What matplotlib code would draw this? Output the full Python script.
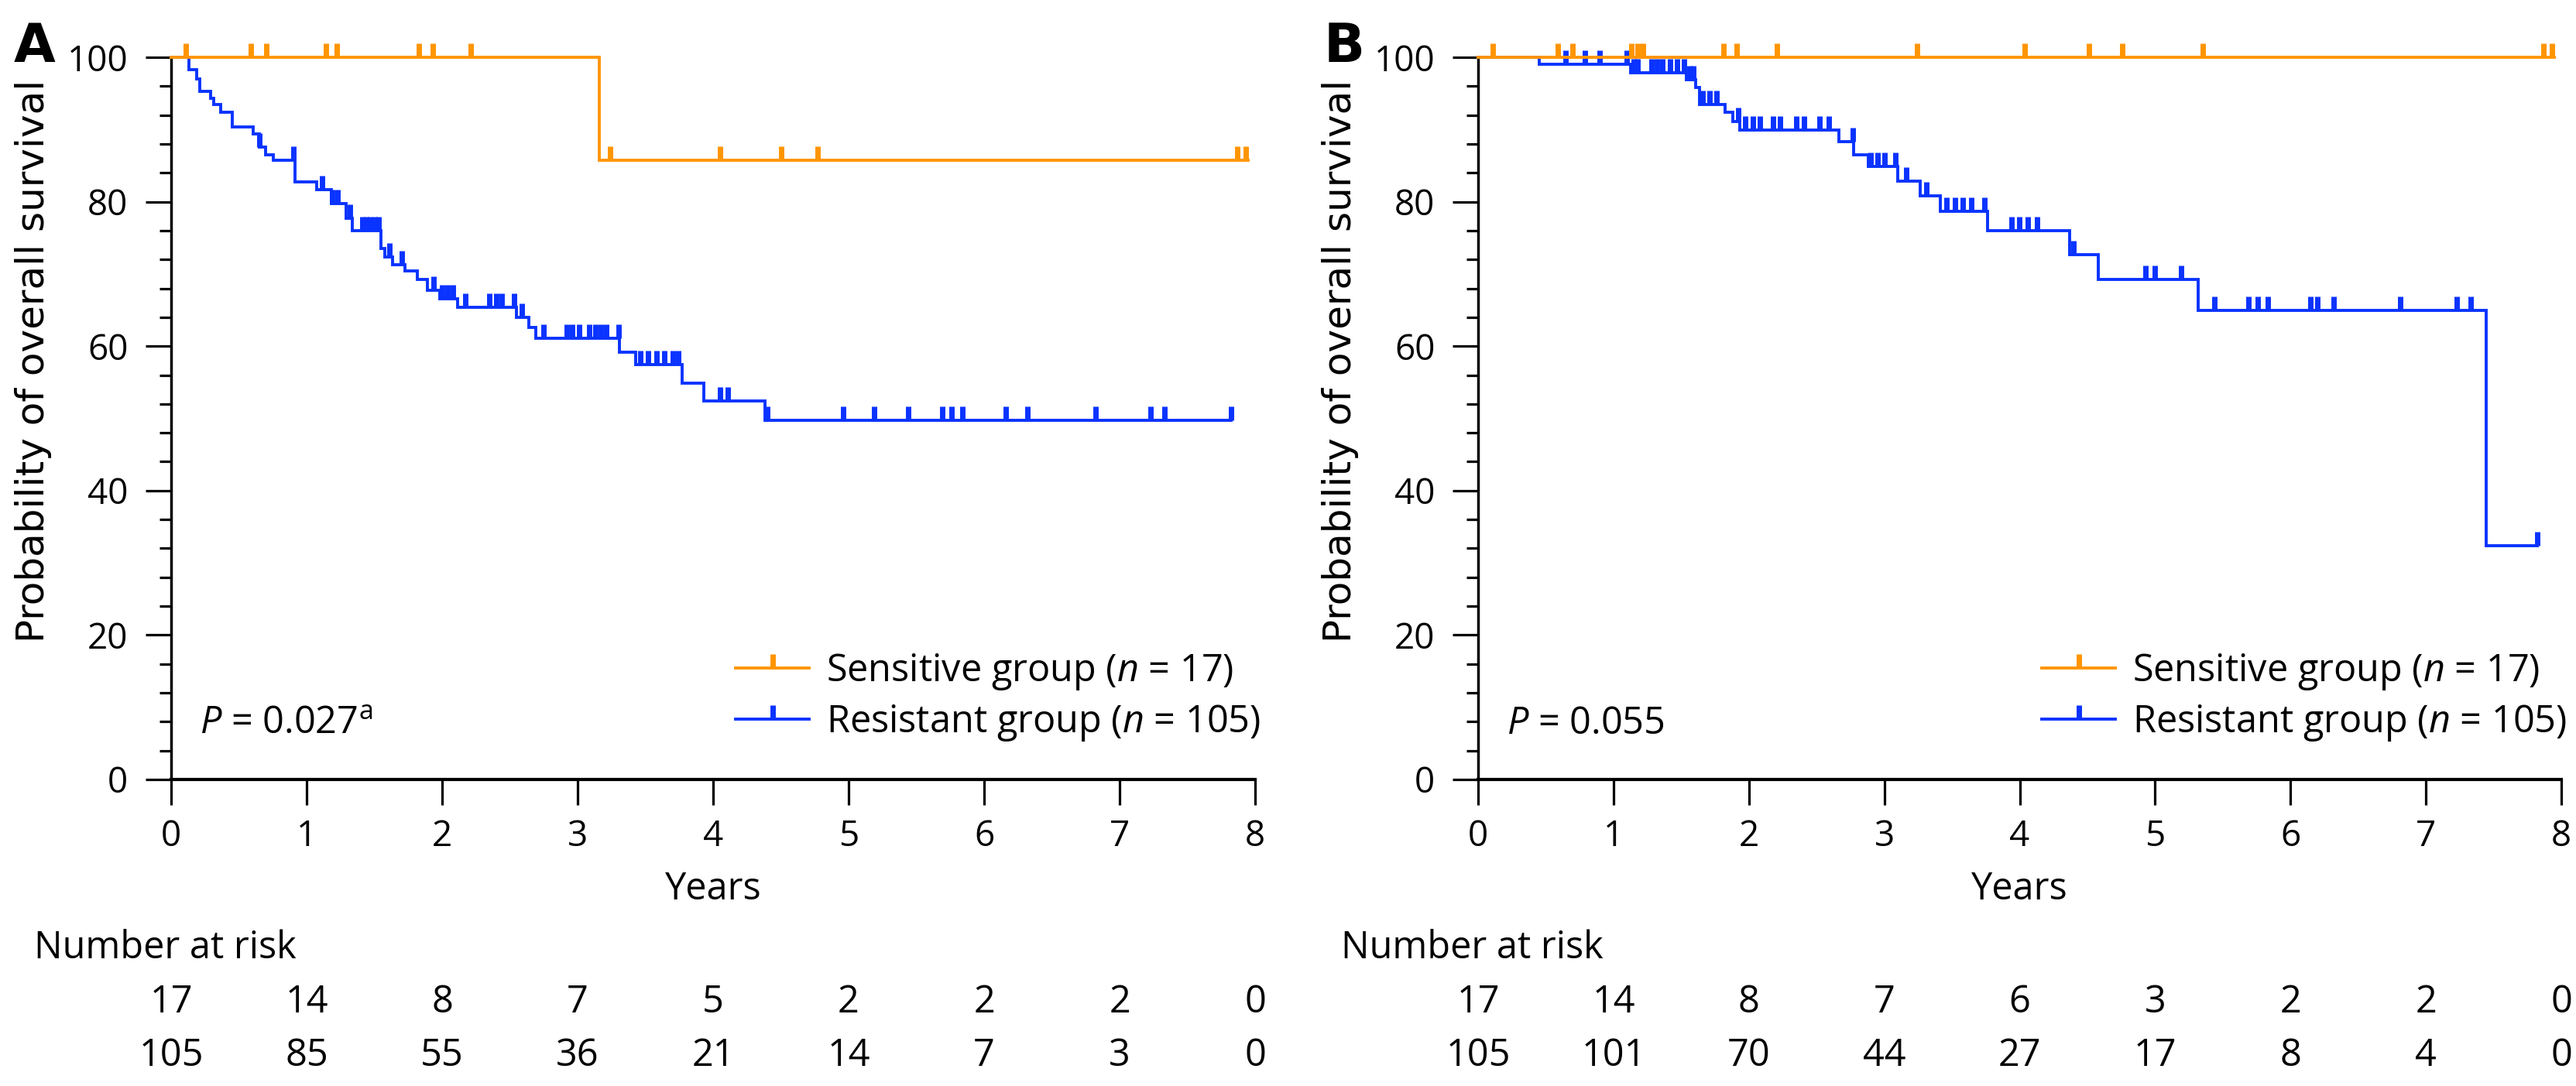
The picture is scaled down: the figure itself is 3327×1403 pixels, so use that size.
import matplotlib

matplotlib.use("Agg")
import matplotlib.pyplot as plt
import numpy as np
from matplotlib import font_manager
from matplotlib.lines import Line2D


def pick_font(families):
    for fam in families:
        try:
            font_manager.findfont(fam, fallback_to_default=False)
            return fam
        except ValueError:
            pass
    return "DejaVu Sans"


TEXT_FONT = pick_font(["DejaVu Sans Condensed", "Open Sans"])
plt.rcParams["font.family"] = [TEXT_FONT, "DejaVu Sans"]
plt.rcParams["mathtext.fontset"] = "custom"
plt.rcParams["mathtext.rm"] = TEXT_FONT
plt.rcParams["mathtext.it"] = TEXT_FONT + ":italic"

ORANGE = "#ff9500"
BLUE = "#0a33ff"

# ---- data ------------------------------------------------------------------
years = [0, 1, 2, 3, 4, 5, 6, 7, 8]

# Panel A
a_sens_t = [0, 3.16, 7.95]
a_sens_s = [100, 85.7, 85.7]
a_sens_cens = [0.11, 0.59, 0.70, 1.14, 1.22, 1.83, 1.93, 2.21,
               3.24, 4.05, 4.50, 4.77, 7.87, 7.93]

a_res_t = [0, 0.133, 0.19, 0.21, 0.29, 0.315, 0.366, 0.45, 0.605, 0.65,
           0.695, 0.755, 0.913, 1.077, 1.18, 1.29, 1.337, 1.546, 1.577,
           1.636, 1.726, 1.816, 1.89, 1.98, 2.114, 2.55, 2.64, 2.69, 3.31,
           3.43, 3.77, 3.93, 4.38, 7.82]
a_res_s = [100, 98.3, 97.0, 95.3, 94.3, 93.5, 92.4, 90.4, 89.4, 87.6,
           86.5, 85.7, 82.7, 81.7, 79.7, 77.7, 76.0, 73.5, 72.4,
           71.3, 70.4, 69.2, 67.7, 66.6, 65.4, 64.0, 62.6, 61.1, 59.2,
           57.4, 54.9, 52.4, 49.7, 49.7]
a_res_cens = [0.65, 0.904, 1.113, 1.19, 1.23, 1.32, 1.41, 1.44, 1.47, 1.50,
              1.53, 1.61, 1.70, 1.935, 2.0, 2.04, 2.08, 2.17, 2.35, 2.40,
              2.44, 2.53, 2.59, 2.75, 2.92, 2.96, 3.01, 3.086, 3.13, 3.17,
              3.21, 3.30, 3.46, 3.52, 3.58, 3.64, 3.70, 3.74, 4.05, 4.11,
              4.40, 4.96, 5.19, 5.44, 5.69, 5.76, 5.84, 6.16, 6.32, 6.82,
              7.23, 7.33, 7.82]

a_risk_sens = [17, 14, 8, 7, 5, 2, 2, 2, 0]
a_risk_res = [105, 85, 55, 36, 21, 14, 7, 3, 0]
a_pvalue = r"$\it{P}$ = 0.027$^{\rm{a}}$"

# Panel B
b_sens_t = [0, 7.95]
b_sens_s = [100, 100]
b_sens_cens = [0.106, 0.587, 0.70, 1.13, 1.18, 1.22, 1.81, 1.91, 2.21,
               3.24, 4.04, 4.51, 4.76, 5.35, 7.87, 7.93]

b_res_t = [0, 0.453, 1.125, 1.54, 1.607, 1.635, 1.826, 1.883, 1.93, 2.664,
           2.772, 2.88, 3.097, 3.268, 3.415, 3.765, 4.37, 4.579, 5.317,
           7.447, 7.82]
b_res_s = [100, 99.0, 97.9, 96.9, 95.8, 93.5, 92.4, 91.1, 89.9, 88.3,
           86.5, 84.9, 82.9, 80.8, 78.7, 76.0, 72.7, 69.2, 64.9,
           32.4, 32.4]
b_res_cens = [0.644, 0.787, 0.898, 1.10, 1.15, 1.18, 1.28, 1.32, 1.36,
              1.42, 1.47, 1.52, 1.56, 1.59, 1.66, 1.71, 1.76, 1.92, 1.97,
              2.03, 2.08, 2.18, 2.23, 2.35, 2.41, 2.52, 2.59, 2.77, 2.90,
              2.95, 3.00, 3.08, 3.16, 3.31, 3.46, 3.52, 3.58, 3.64, 3.74,
              3.94, 3.995, 4.06, 4.13, 4.40, 4.93, 5.00, 5.19, 5.44, 5.69,
              5.76, 5.83, 6.15, 6.20, 6.32, 6.81, 7.23, 7.33, 7.82]

b_risk_sens = [17, 14, 8, 7, 6, 3, 2, 2, 0]
b_risk_res = [105, 101, 70, 44, 27, 17, 8, 4, 0]
b_pvalue = r"$\it{P}$ = 0.055"

labels = [r"Sensitive group ($\it{n}$ = 17)", r"Resistant group ($\it{n}$ = 105)"]

W, H = 3327, 1403
FS = 33      # tick labels
FS_TXT = 35  # legend, p value, risk table
LW = 2.8
TICK_MS, TICK_MEW = 13, 5.0


def survival_at(t, s, when):
    t = np.asarray(t)
    idx = np.searchsorted(t, when, side="right") - 1
    return np.asarray(s)[idx]


def km(ax, t, s, cens, color, z):
    ax.step(t, s, where="post", color=color, lw=LW, clip_on=False, zorder=z,
            solid_joinstyle="miter")
    ax.plot(cens, survival_at(t, s, cens), ls="none", marker=2, ms=TICK_MS,
            mew=TICK_MEW, color=color, clip_on=False, zorder=z)


def panel(ax, letter, letter_x, curves, risk_sens, risk_res, pvalue):
    for t, s, cens, color, z in curves:
        km(ax, t, s, cens, color, z)

    ax.set_xlim(0, 8)
    ax.set_ylim(0, 100)
    ax.set_xticks(years)
    ax.set_yticks([0, 20, 40, 60, 80, 100])
    ax.set_yticks(np.arange(0, 101, 4), minor=True)
    for side in ("top", "right"):
        ax.spines[side].set_visible(False)
    ax.spines["left"].set_linewidth(2.5)
    ax.spines["bottom"].set_linewidth(3.0)
    ax.tick_params(axis="both", which="major", labelsize=FS, width=2.3,
                   length=24, direction="out")
    ax.tick_params(axis="y", which="minor", width=2.3, length=11)
    ax.tick_params(axis="y", which="major", pad=16)
    ax.tick_params(axis="x", which="major", pad=13)

    ax.set_xlabel("Years", fontsize=FS_TXT)
    ax.xaxis.set_label_coords(0.5, -0.126)
    ax.set_ylabel("Probability of overall survival", fontsize=36,
                  family="DejaVu Sans")
    ax.yaxis.set_label_coords(-0.11, 0.579)

    ax.text(0.0264, 0.0632, pvalue, transform=ax.transAxes, fontsize=FS_TXT,
            va="baseline", ha="left")

    handles = [Line2D([], [], color=ORANGE, lw=LW, marker=2, ms=TICK_MS,
                      mew=TICK_MEW),
               Line2D([], [], color=BLUE, lw=LW, marker=2, ms=TICK_MS,
                      mew=TICK_MEW)]
    ax.legend(handles, labels, loc="lower right", bbox_to_anchor=(1.005, 0.05),
              frameon=False, handlelength=1.95, handletextpad=0.45,
              labelspacing=0.3, borderpad=0, borderaxespad=0, numpoints=1,
              prop={"family": TEXT_FONT, "size": FS_TXT})

    tr = ax.get_xaxis_transform()
    ax.text(-0.1264, -0.2476, "Number at risk", transform=ax.transAxes,
            fontsize=FS_TXT, va="baseline", ha="left")
    for x, n1, n2 in zip(years, risk_sens, risk_res):
        ax.text(x, -0.3226, str(n1), transform=tr, fontsize=FS_TXT,
                ha="center", va="baseline", clip_on=False)
        ax.text(x, -0.3966, str(n2), transform=tr, fontsize=FS_TXT,
                ha="center", va="baseline", clip_on=False)

    ax.figure.text(letter_x / W, 1 - 80 / H, letter, fontsize=50,
                   fontweight="bold", family="DejaVu Sans", va="baseline",
                   ha="left")


fig = plt.figure(figsize=(W / 100, H / 100), dpi=100)
ax_a = fig.add_axes([221 / W, 1 - 1007 / H, 1400 / W, 933 / H])
ax_b = fig.add_axes([1909 / W, 1 - 1007 / H, 1399 / W, 933 / H])

panel(ax_a, "A", 18,
      [(a_res_t, a_res_s, a_res_cens, BLUE, 3),
       (a_sens_t, a_sens_s, a_sens_cens, ORANGE, 4)],
      a_risk_sens, a_risk_res, a_pvalue)
panel(ax_b, "B", 1710,
      [(b_res_t, b_res_s, b_res_cens, BLUE, 3),
       (b_sens_t, b_sens_s, b_sens_cens, ORANGE, 4)],
      b_risk_sens, b_risk_res, b_pvalue)

fig.savefig("out.png", dpi=100, facecolor="white")
